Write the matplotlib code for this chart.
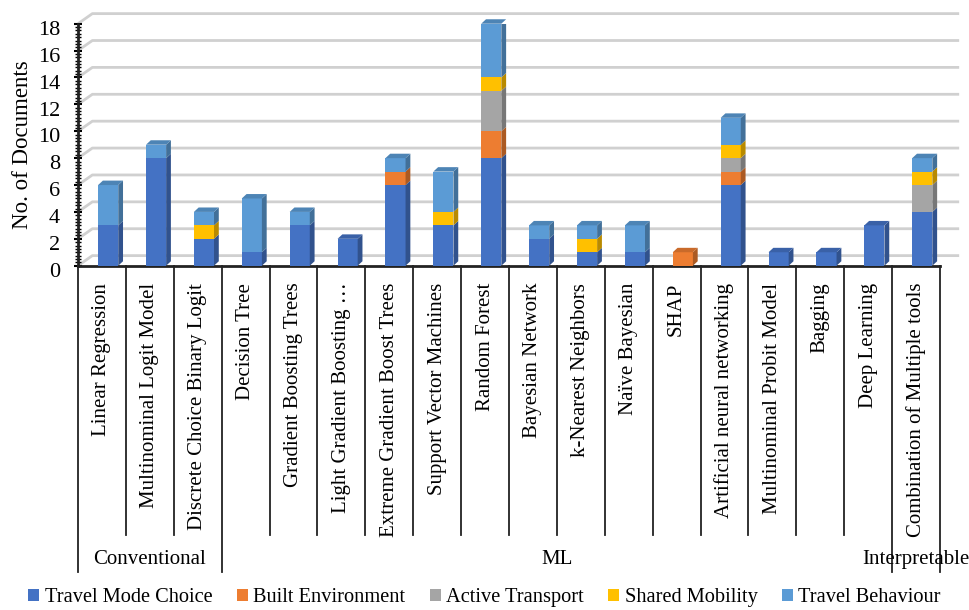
import numpy as np
import matplotlib
matplotlib.use("Agg")
import matplotlib.pyplot as plt
from matplotlib.patches import Polygon, Patch
from matplotlib import transforms
from matplotlib.colors import to_rgb

plt.rcParams['font.family'] = ['Liberation Serif', 'DejaVu Serif']
plt.rcParams['font.size'] = 15

categories = ["Linear Regression", "Multinominal Logit Model", "Discrete Choice Binary Logit",
              "Decision Tree", "Gradient Boosting Trees", "Light Gradient Boosting \u2026",
              "Extreme Gradient Boost Trees", "Support Vector Machines", "Random Forest",
              "Bayesian Network", "k-Nearest Neighbors", "Naïve Bayesian", "SHAP",
              "Artificial neural networking", "Multinominal Probit Model", "Bagging",
              "Deep Learning", "Combination of Multiple tools"]
groups = ["Conventional", "ML", "Interpretable"]
group_sizes = [3, 14, 1]

series_names = ["Travel Mode Choice", "Built Environment", "Active Transport",
                "Shared Mobility", "Travel Behaviour"]
travel_mode = [3, 8, 2, 1, 3, 2, 6, 3, 8, 2, 1, 1, 0, 6, 1, 1, 3, 4]
built_env   = [0, 0, 0, 0, 0, 0, 1, 0, 2, 0, 0, 0, 1, 1, 0, 0, 0, 0]
active_tr   = [0, 0, 0, 0, 0, 0, 0, 0, 3, 0, 0, 0, 0, 1, 0, 0, 0, 2]
shared_mob  = [0, 0, 1, 0, 0, 0, 0, 1, 1, 0, 1, 0, 0, 1, 0, 0, 0, 1]
travel_beh  = [3, 1, 1, 4, 1, 0, 1, 3, 4, 1, 1, 2, 0, 2, 0, 0, 0, 1]
series = [travel_mode, built_env, active_tr, shared_mob, travel_beh]
colors = ["#4472C4", "#ED7D31", "#A5A5A5", "#FFC000", "#5B9BD5"]

def shade(c, f):
    r, g, b = to_rgb(c)
    return (r * f, g * f, b * f)

fig = plt.figure(figsize=(9.69, 6.10), dpi=100)
ax = fig.add_axes([78 / 969, 1 - 265.7 / 610, 862 / 969, 242 / 610])
n = len(categories)
ax.set_xlim(0, n)
ax.set_ylim(0, 18)

# back wall gridlines (fake 3d)
gdx, gdy = 0.3, 0.75
for v in range(0, 19, 2):
    ax.plot([0, gdx, n + 0.4], [v, v + gdy, v + gdy], color="#d0d0d0", lw=2,
            zorder=0, clip_on=False, solid_capstyle='butt')

# stacked bars with side/top faces
w, off, dx, dy = 0.42, 0.13, 0.1, 0.33
x = np.arange(n) + 0.5 + off
bottom = np.zeros(n)
for vals, c in zip(series, colors):
    vals = np.array(vals, dtype=float)
    ax.bar(x, vals, w, bottom=bottom, color=c, zorder=3, linewidth=0)
    for i in range(n):
        if vals[i] == 0:
            continue
        x1 = x[i] + w / 2
        b, t = bottom[i], bottom[i] + vals[i]
        ax.add_patch(Polygon([(x1, b), (x1 + dx, b + dy), (x1 + dx, t + dy), (x1, t)],
                             closed=True, facecolor=shade(c, 0.72), lw=0, zorder=3))
    bottom = bottom + vals
# top faces
for i in range(n):
    t = bottom[i]
    x0, x1 = x[i] - w / 2, x[i] + w / 2
    top_c = None
    for vals, c in zip(series, colors):
        if vals[i] > 0:
            top_c = c
    ax.add_patch(Polygon([(x0, t), (x0 + dx, t + dy), (x1 + dx, t + dy), (x1, t)],
                         closed=True, facecolor=shade(top_c, 0.85), lw=0, zorder=4,
                         clip_on=False))

# axes styling
for s in ["top", "right"]:
    ax.spines[s].set_visible(False)
ax.spines["left"].set_linewidth(2)
ax.spines["left"].set_color("#222222")
ax.spines["bottom"].set_linewidth(2)
ax.spines["bottom"].set_color("#222222")
ax.set_yticks(range(0, 19, 2))
ax.set_yticks(np.arange(0, 18.01, 0.25), minor=True)
ax.tick_params(axis='y', which='major', direction='inout', length=6, width=1.5, pad=10,
               labelsize=16)
ax.tick_params(axis='y', which='minor', direction='inout', length=4, width=1)
ax.set_xticks([])
shift = transforms.ScaledTranslation(0, -3 / 72, fig.dpi_scale_trans)
for lab in ax.get_yticklabels():
    lab.set_transform(lab.get_transform() + shift)
fig.text(23 / 969, 1 - 145 / 610, "No. of Documents", rotation=90, ha='center',
         va='center', fontsize=16.5)

xt = ax.get_xaxis_transform()
# category labels and separators
for i, name in enumerate(categories):
    ax.text(i + 0.5, -0.07, name, rotation=90, ha='center', va='top', transform=xt)
bounds = np.cumsum([0] + group_sizes)
for i in range(n + 1):
    ybot = -1.265 if i in bounds else -1.112
    ax.plot([i, i], [0, ybot], color="#222222", lw=1.3, transform=xt, clip_on=False)
for g, a, b in zip(groups, bounds[:-1], bounds[1:]):
    ax.text((a + b) / 2, -1.212, g, ha='center', va='center', transform=xt)

handles = [Patch(facecolor=c, label=s) for s, c in zip(series_names, colors)]
fig.legend(handles=handles, loc='center', bbox_to_anchor=(0.5, 0.02), ncol=5,
           frameon=False, handlelength=0.55, handleheight=0.55, handletextpad=0.25,
           columnspacing=1.2, borderaxespad=0, fontsize=14.7)

fig.savefig("out.png", dpi=100)
